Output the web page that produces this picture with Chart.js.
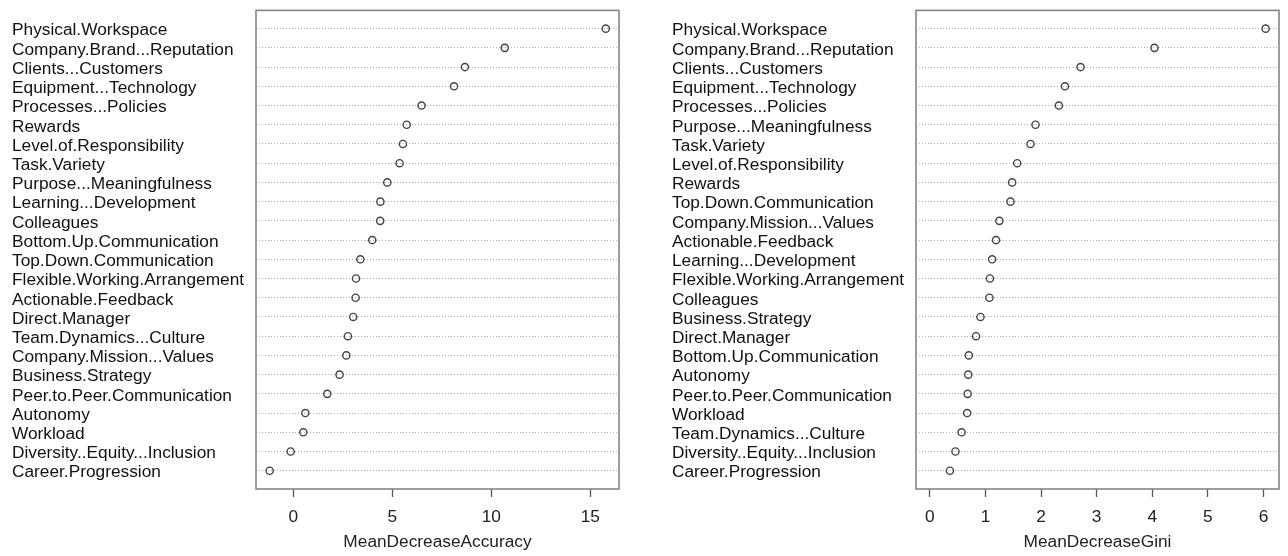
<!DOCTYPE html>
<html>
<head>
<meta charset="utf-8">
<script src="https://cdn.jsdelivr.net/npm/chart.js@4/dist/chart.umd.min.js"></script>
<style>
  html, body { margin: 0; padding: 0; background: #ffffff; }
  #wrap { position: relative; width: 1288px; height: 556px; overflow: hidden; background: #ffffff; }
  canvas { position: absolute; top: 0; }
  #accCanvas { left: 0; }
  #giniCanvas { left: 644px; }
</style>
</head>
<body>
<div id="wrap">
  <canvas id="accCanvas" width="644" height="556"></canvas>
  <canvas id="giniCanvas" width="644" height="556"></canvas>
</div>
<script>
// Variable importance, ranked by mean decrease in accuracy
const accLabels = [
  'Physical.Workspace', 'Company.Brand...Reputation', 'Clients...Customers',
  'Equipment...Technology', 'Processes...Policies', 'Rewards',
  'Level.of.Responsibility', 'Task.Variety', 'Purpose...Meaningfulness',
  'Learning...Development', 'Colleagues', 'Bottom.Up.Communication',
  'Top.Down.Communication', 'Flexible.Working.Arrangement', 'Actionable.Feedback',
  'Direct.Manager', 'Team.Dynamics...Culture', 'Company.Mission...Values',
  'Business.Strategy', 'Peer.to.Peer.Communication', 'Autonomy',
  'Workload', 'Diversity..Equity...Inclusion', 'Career.Progression'
];
const accValues = [
  15.78, 10.68, 8.67, 8.12, 6.48, 5.73, 5.54, 5.37, 4.75, 4.40, 4.39, 3.99,
  3.39, 3.17, 3.15, 3.03, 2.76, 2.68, 2.34, 1.72, 0.61, 0.51, -0.13, -1.19
];
const accTicks = [0, 5, 10, 15];

// Variable importance, ranked by mean decrease in Gini impurity
const giniLabels = [
  'Physical.Workspace', 'Company.Brand...Reputation', 'Clients...Customers',
  'Equipment...Technology', 'Processes...Policies', 'Purpose...Meaningfulness',
  'Task.Variety', 'Level.of.Responsibility', 'Rewards',
  'Top.Down.Communication', 'Company.Mission...Values', 'Actionable.Feedback',
  'Learning...Development', 'Flexible.Working.Arrangement', 'Colleagues',
  'Business.Strategy', 'Direct.Manager', 'Bottom.Up.Communication',
  'Autonomy', 'Peer.to.Peer.Communication', 'Workload',
  'Team.Dynamics...Culture', 'Diversity..Equity...Inclusion', 'Career.Progression'
];
const giniValues = [
  6.04, 4.04, 2.71, 2.43, 2.32, 1.90, 1.81, 1.57, 1.48, 1.45, 1.25, 1.19,
  1.12, 1.08, 1.07, 0.91, 0.83, 0.70, 0.69, 0.68, 0.67, 0.57, 0.46, 0.36
];
const giniTicks = [0, 1, 2, 3, 4, 5, 6];

const FONT = "'Liberation Sans', Arial, Helvetica, sans-serif";
const FONT_SIZE = 17.3;

// Plot frame drawn around the plotting region
const framePlugin = {
  id: 'frame',
  afterDatasetsDraw(chart) {
    const { ctx, chartArea: a } = chart;
    ctx.save();
    ctx.strokeStyle = '#858585';
    ctx.lineWidth = 1.6;
    ctx.strokeRect(a.left, a.top, a.right - a.left, a.bottom - a.top);
    ctx.restore();
  }
};

function dotChart(canvasId, labels, values, ticks, xMin, xMax, title, pad, labelWidth) {
  const points = values.map((v, i) => ({ x: v, y: i + 1 }));
  return new Chart(document.getElementById(canvasId), {
    type: 'scatter',
    data: {
      datasets: [{
        data: points,
        pointStyle: 'circle',
        pointRadius: 3.6,
        pointHoverRadius: 3.6,
        borderWidth: 1.4,
        borderColor: '#444444',
        backgroundColor: 'rgba(255,255,255,0)'
      }]
    },
    options: {
      responsive: false,
      animation: false,
      events: [],
      layout: { padding: { left: pad.left, right: pad.right, top: 10, bottom: 0 } },
      plugins: { legend: { display: false }, tooltip: { enabled: false } },
      scales: {
        x: {
          type: 'linear',
          min: xMin,
          max: xMax,
          afterBuildTicks: s => { s.ticks = ticks.map(v => ({ value: v })); },
          afterFit: s => { s.height = 67; },
          grid: { drawOnChartArea: false, drawTicks: true, tickLength: 8, tickColor: '#555', tickWidth: 1.3 },
          border: { display: false },
          ticks: { padding: 10, color: '#222', maxRotation: 0, autoSkip: false, font: { family: FONT, size: FONT_SIZE } },
          title: { display: true, text: title, color: '#222', font: { family: FONT, size: FONT_SIZE }, padding: { top: 0, bottom: 3 } }
        },
        y: {
          type: 'linear',
          reverse: true,
          min: 0.05,
          max: labels.length + 0.95,
          afterBuildTicks: s => { s.ticks = labels.map((_, i) => ({ value: i + 1 })); },
          afterFit: s => { s.width = labelWidth; },
          grid: { color: '#b0b0b0', lineWidth: 1, drawTicks: false },
          border: { display: false, dash: [1, 2] },
          ticks: {
            crossAlign: 'far', padding: 0, labelOffset: 2, autoSkip: false,
            color: '#111', font: { family: FONT, size: FONT_SIZE },
            callback: v => labels[v - 1]
          }
        }
      }
    },
    plugins: [framePlugin]
  });
}

dotChart('accCanvas', accLabels, accValues, accTicks, -1.88, 16.45,
  'MeanDecreaseAccuracy', { left: 12, right: 25 }, 244);
dotChart('giniCanvas', giniLabels, giniValues, giniTicks, -0.25, 6.28,
  'MeanDecreaseGini', { left: 28, right: 9 }, 244);
</script>
</body>
</html>
